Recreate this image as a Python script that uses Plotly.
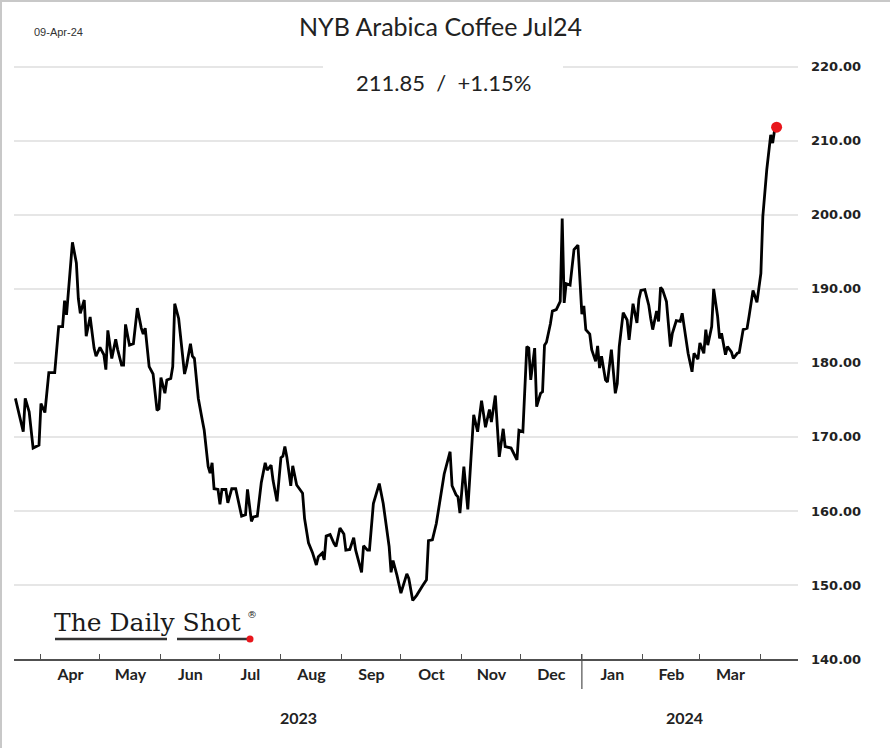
import plotly.graph_objects as go
import pandas as pd

# ---------------- data ----------------
dates = [
    "2023-03-19", "2023-03-23", "2023-03-24", "2023-03-26", "2023-03-28", "2023-03-31",
    "2023-04-01", "2023-04-03", "2023-04-05", "2023-04-08", "2023-04-10", "2023-04-12",
    "2023-04-13", "2023-04-14", "2023-04-17", "2023-04-19", "2023-04-20", "2023-04-21",
    "2023-04-23", "2023-04-24", "2023-04-26", "2023-04-28", "2023-04-29", "2023-05-01",
    "2023-05-03", "2023-05-04", "2023-05-05", "2023-05-07", "2023-05-09", "2023-05-10",
    "2023-05-12", "2023-05-13", "2023-05-14", "2023-05-16", "2023-05-18", "2023-05-20",
    "2023-05-22", "2023-05-23", "2023-05-24", "2023-05-26", "2023-05-28", "2023-05-30",
    "2023-05-31", "2023-06-01", "2023-06-03", "2023-06-04", "2023-06-06", "2023-06-07",
    "2023-06-08", "2023-06-10", "2023-06-13", "2023-06-14", "2023-06-16", "2023-06-17",
    "2023-06-18", "2023-06-20", "2023-06-22", "2023-06-23", "2023-06-25", "2023-06-26",
    "2023-06-27", "2023-06-28", "2023-06-30", "2023-07-01", "2023-07-02", "2023-07-04",
    "2023-07-05", "2023-07-07", "2023-07-09", "2023-07-10", "2023-07-12", "2023-07-14",
    "2023-07-15", "2023-07-17", "2023-07-18", "2023-07-20", "2023-07-22", "2023-07-24",
    "2023-07-25", "2023-07-27", "2023-07-28", "2023-07-30", "2023-08-01", "2023-08-02",
    "2023-08-03", "2023-08-04", "2023-08-06", "2023-08-07", "2023-08-09", "2023-08-12",
    "2023-08-13", "2023-08-15", "2023-08-17", "2023-08-19", "2023-08-20", "2023-08-22",
    "2023-08-23", "2023-08-24", "2023-08-26", "2023-08-28", "2023-08-29", "2023-08-31",
    "2023-09-02", "2023-09-03", "2023-09-05", "2023-09-07", "2023-09-08", "2023-09-11",
    "2023-09-12", "2023-09-14", "2023-09-15", "2023-09-17", "2023-09-20", "2023-09-22",
    "2023-09-25", "2023-09-26", "2023-09-27", "2023-09-29", "2023-10-01", "2023-10-04",
    "2023-10-05", "2023-10-07", "2023-10-09", "2023-10-12", "2023-10-14", "2023-10-15",
    "2023-10-17", "2023-10-19", "2023-10-23", "2023-10-26", "2023-10-27", "2023-10-29",
    "2023-10-30", "2023-10-31", "2023-11-02", "2023-11-04", "2023-11-07", "2023-11-09",
    "2023-11-11", "2023-11-13", "2023-11-15", "2023-11-16", "2023-11-18", "2023-11-20",
    "2023-11-22", "2023-11-23", "2023-11-26", "2023-11-29", "2023-11-30", "2023-12-02",
    "2023-12-04", "2023-12-05", "2023-12-06", "2023-12-08", "2023-12-09", "2023-12-11",
    "2023-12-12", "2023-12-13", "2023-12-14", "2023-12-16", "2023-12-17", "2023-12-19",
    "2023-12-21", "2023-12-22", "2023-12-23", "2023-12-24", "2023-12-26", "2023-12-28",
    "2023-12-30", "2024-01-01", "2024-01-02", "2024-01-03", "2024-01-05", "2024-01-06",
    "2024-01-08", "2024-01-09", "2024-01-10", "2024-01-11", "2024-01-13", "2024-01-14",
    "2024-01-16", "2024-01-18", "2024-01-19", "2024-01-20", "2024-01-22", "2024-01-24",
    "2024-01-25", "2024-01-27", "2024-01-29", "2024-01-30", "2024-01-31", "2024-02-02",
    "2024-02-04", "2024-02-05", "2024-02-06", "2024-02-08", "2024-02-09", "2024-02-10",
    "2024-02-11", "2024-02-13", "2024-02-15", "2024-02-16", "2024-02-18", "2024-02-20",
    "2024-02-21", "2024-02-22", "2024-02-24", "2024-02-26", "2024-02-27", "2024-02-29",
    "2024-03-01", "2024-03-03", "2024-03-04", "2024-03-05", "2024-03-07", "2024-03-08",
    "2024-03-10", "2024-03-11", "2024-03-12", "2024-03-14", "2024-03-15", "2024-03-17",
    "2024-03-18", "2024-03-20", "2024-03-21", "2024-03-23", "2024-03-25", "2024-03-26",
    "2024-03-28", "2024-03-30", "2024-04-01", "2024-04-02", "2024-04-04", "2024-04-06",
    "2024-04-07", "2024-04-08", "2024-04-09",
]

prices = [
    175.2, 170.7, 175.2, 173.4, 168.5, 168.9,
    174.5, 173.3, 178.7, 178.7, 184.9, 184.9,
    188.4, 186.5, 196.3, 193.5, 188.7, 186.7,
    188.5, 183.6, 186.2, 182.0, 180.9, 182.1,
    181.1, 179.1, 184.4, 180.6, 183.2, 181.8,
    179.7, 179.7, 185.2, 182.4, 182.6, 187.4,
    184.7, 183.9, 184.7, 179.5, 178.5, 173.6,
    173.8, 178.0, 175.9, 177.7, 177.9, 179.5,
    188.0, 186.0, 178.5, 179.6, 182.6, 180.9,
    180.6, 175.2, 172.3, 170.9, 166.0, 165.1,
    166.5, 163.0, 162.9, 160.9, 162.9, 162.9,
    161.1, 163.0, 163.0, 161.7, 159.3, 159.5,
    162.9, 158.6, 159.2, 159.3, 163.8, 166.5,
    165.5, 166.2, 164.1, 161.3, 167.2, 167.4,
    168.7, 167.3, 163.4, 166.1, 163.5, 162.4,
    159.0, 155.7, 154.4, 152.7, 153.8, 154.3,
    153.4, 156.6, 156.8, 155.6, 155.2, 157.7,
    156.9, 154.7, 154.8, 156.4, 154.7, 151.7,
    155.3, 154.7, 154.7, 161.0, 163.7, 161.0,
    155.2, 151.7, 153.3, 151.3, 148.9, 151.5,
    150.9, 147.9, 148.6, 149.9, 150.7, 156.0,
    156.1, 158.3, 165.0, 168.0, 163.4, 162.2,
    161.9, 159.7, 166.0, 160.2, 173.0, 170.7,
    174.9, 171.3, 173.7, 172.0, 175.6, 167.3,
    171.1, 168.7, 168.5, 166.9, 170.9, 170.7,
    182.2, 182.0, 177.7, 182.0, 174.1, 175.9,
    176.1, 182.4, 182.8, 185.3, 187.0, 187.2,
    188.3, 199.5, 188.1, 190.7, 190.5, 195.3,
    195.9, 186.6, 187.7, 184.5, 183.9, 181.8,
    180.2, 182.3, 179.3, 180.9, 177.7, 177.4,
    181.8, 175.9, 177.2, 182.2, 186.8, 185.8,
    183.1, 188.0, 185.4, 188.6, 189.8, 189.9,
    187.8, 186.0, 184.5, 187.0, 185.6, 190.2,
    189.9, 188.3, 182.2, 184.0, 185.7, 185.6,
    186.7, 184.9, 181.3, 178.8, 181.3, 180.5,
    182.7, 181.3, 184.5, 182.4, 184.9, 190.0,
    186.3, 183.3, 184.0, 181.1, 182.2, 181.5,
    180.6, 181.3, 181.4, 184.5, 184.7, 186.3,
    189.8, 188.2, 192.1, 199.8, 206.1, 210.8,
    209.7, 211.5, 211.85,
]

month_starts = [
    "2023-04-01", "2023-05-01", "2023-06-01", "2023-07-01", "2023-08-01",
    "2023-09-01", "2023-10-01", "2023-11-01", "2023-12-01", "2024-01-01",
    "2024-02-01", "2024-03-01", "2024-04-01",
]
month_labels = ["Apr", "May", "Jun", "Jul", "Aug", "Sep", "Oct", "Nov", "Dec",
                "Jan", "Feb", "Mar"]
year_labels = ["2023", "2024"]
year_label_dates = ["2023-08-10", "2024-02-22"]
year_break = "2024-01-01"
y_ticks = [140, 150, 160, 170, 180, 190, 200, 210, 220]

title_text = "NYB Arabica Coffee Jul24"
last_text = "211.85  /  +1.15%"
asof_text = "09-Apr-24"
logo_text = "The Daily Shot"

# ---------------- layout helpers ----------------
W, H = 890, 748
ML, MR, MT, MB = 14, 92, 52, 89
PW, PH = W - ML - MR, H - MT - MB


def px(x):
    return (x - ML) / PW


def py(y):
    return (H - MB - y) / PH


ms = pd.to_datetime(month_starts)
month_mids = [ms[i] + (ms[i + 1] - ms[i]) / 2 for i in range(len(ms) - 1)]

fig = go.Figure()
fig.add_trace(go.Scatter(
    x=dates, y=prices, mode="lines",
    line=dict(color="#000000", width=2.8),
    hoverinfo="skip", showlegend=False,
))
fig.add_trace(go.Scatter(
    x=[dates[-1]], y=[prices[-1]], mode="markers",
    marker=dict(color="#e8161c", size=11),
    cliponaxis=False, hoverinfo="skip", showlegend=False,
))

label_font = dict(family="Lato, sans-serif", size=16, color="#222222", weight="bold")

fig.update_layout(
    width=W, height=H,
    margin=dict(l=ML, r=MR, t=MT, b=MB),
    paper_bgcolor="white", plot_bgcolor="white",
    showlegend=False,
    xaxis=dict(
        type="date",
        range=["2023-03-18 07:00", "2024-04-19 21:00"],
        tickvals=month_mids, ticktext=month_labels,
        ticks="", showgrid=False, zeroline=False,
        showline=True, linecolor="#505050", linewidth=1.5,
        tickfont=label_font,
        minor=dict(tickvals=month_starts, ticks="inside", ticklen=5,
                   tickcolor="#505050", tickwidth=1, showgrid=False),
    ),
    yaxis=dict(
        side="right",
        range=[140, 222],
        tickvals=y_ticks, tickformat=".2f",
        showgrid=True, gridcolor="#e6e6e6", gridwidth=1.5,
        zeroline=False, showline=False, ticks="",
        ticklabelstandoff=12,
        tickfont=dict(family="DejaVu Sans, sans-serif", size=13, color="#222222",
                      weight="bold"),
    ),
)

shapes = [
    # white box behind the last-value text
    dict(type="rect", xref="paper", yref="paper",
         x0=px(323), x1=px(563), y0=py(100), y1=py(58),
         fillcolor="white", line=dict(width=0), layer="above"),
    # year separator
    dict(type="line", xref="x", yref="paper",
         x0=year_break, x1=year_break, y0=py(654), y1=py(689),
         line=dict(color="#505050", width=1.2)),
    # logo underline
    dict(type="line", xref="paper", yref="paper",
         x0=px(55), x1=px(167), y0=py(639), y1=py(639),
         line=dict(color="#333333", width=2.5)),
    dict(type="line", xref="paper", yref="paper",
         x0=px(177), x1=px(248), y0=py(639), y1=py(639),
         line=dict(color="#333333", width=2.5)),
    dict(type="circle", xref="paper", yref="paper",
         x0=px(246.5), x1=px(253.5), y0=py(642.5), y1=py(635.5),
         fillcolor="#e8161c", line=dict(width=0)),
    # frame (left/top)
    dict(type="line", xref="paper", yref="paper",
         x0=px(1), x1=px(1), y0=py(0), y1=py(H),
         line=dict(color="#c8c8c8", width=2)),
    dict(type="line", xref="paper", yref="paper",
         x0=px(0), x1=px(W), y0=py(1), y1=py(1),
         line=dict(color="#c8c8c8", width=2)),
]
fig.update_layout(shapes=shapes)

annotations = [
    dict(text=title_text, xref="paper", yref="paper", x=px(440), y=py(26),
         xanchor="center", yanchor="middle", showarrow=False,
         font=dict(family="Lato, sans-serif", size=25, color="#222222")),
    dict(text=last_text, xref="paper", yref="paper", x=px(443), y=py(82),
         xanchor="center", yanchor="middle", showarrow=False,
         font=dict(family="Lato, sans-serif", size=22, color="#222222")),
    dict(text=asof_text, xref="paper", yref="paper", x=px(32), y=py(32),
         xanchor="left", yanchor="middle", showarrow=False,
         font=dict(family="Liberation Sans, Arial, sans-serif", size=11, color="#333333")),
    dict(text=logo_text, xref="paper", yref="paper", x=px(52), y=py(622),
         xanchor="left", yanchor="middle", showarrow=False,
         font=dict(family="DejaVu Serif, serif", size=25, color="#1a1a1a")),
    dict(text="®", xref="paper", yref="paper", x=px(245), y=py(614),
         xanchor="left", yanchor="middle", showarrow=False,
         font=dict(family="DejaVu Serif, serif", size=10, color="#222222")),
]
for lab, d in zip(year_labels, year_label_dates):
    annotations.append(dict(text=lab, xref="x", yref="paper", x=d, y=py(718),
                            xanchor="center", yanchor="middle", showarrow=False,
                            font=label_font))
fig.update_layout(annotations=annotations)

fig.write_html("out.html", config={"displayModeBar": False},
               post_script="document.body.style.margin='0px';")
